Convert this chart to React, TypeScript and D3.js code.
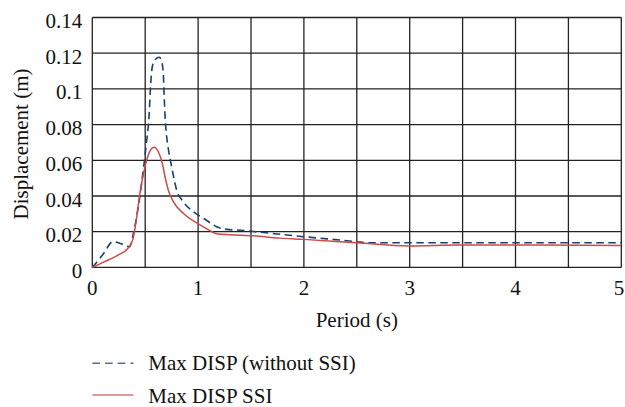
import React from "react";
import * as d3 from "d3";

// Period (s) and maximum displacement (m) without soil-structure interaction
const periodsNoSSI = [0, 0.1, 0.196, 0.26, 0.353, 0.388, 0.435, 0.482, 0.512, 0.536, 0.552, 0.567, 0.595, 0.633, 0.655, 0.671, 0.68, 0.69, 0.70, 0.718, 0.75, 0.797, 0.86, 0.955, 1.05, 1.1, 1.176, 1.27, 1.4, 1.585, 2.0, 2.5, 2.6, 3.0, 3.5, 4.0, 4.5, 5.0];
const dispNoSSI = [0, 0.0072, 0.0144, 0.0135, 0.0116, 0.019, 0.034, 0.0546, 0.07, 0.0844, 0.103, 0.1124, 0.1165, 0.1177, 0.1155, 0.1085, 0.095, 0.082, 0.075, 0.0667, 0.0564, 0.0434, 0.0368, 0.0312, 0.0275, 0.0256, 0.0228, 0.0213, 0.0208, 0.0197, 0.0172, 0.0144, 0.0138, 0.0138, 0.0138, 0.0138, 0.0138, 0.0138];

// Period (s) and maximum displacement (m) with soil-structure interaction
const periodsSSI = [0, 0.117, 0.243, 0.337, 0.385, 0.416, 0.45, 0.498, 0.529, 0.583, 0.624, 0.662, 0.687, 0.718, 0.766, 0.86, 1.018, 1.112, 1.176, 1.3, 1.52, 1.77, 2.0, 2.5, 3.0, 3.47, 4.0, 5.0];
const dispSSI = [0, 0.0032, 0.0069, 0.0107, 0.016, 0.0266, 0.0415, 0.0564, 0.063, 0.0673, 0.0648, 0.0583, 0.0508, 0.0434, 0.0368, 0.0303, 0.0238, 0.0206, 0.0188, 0.0183, 0.0177, 0.0164, 0.0157, 0.0138, 0.012, 0.0125, 0.0125, 0.0122];

const xTicks = [0, 1, 2, 3, 4, 5];
const xGrid = [0, 0.5, 1, 1.5, 2, 2.5, 3, 3.5, 4, 4.5, 5];
const yTicks = [0, 0.02, 0.04, 0.06, 0.08, 0.1, 0.12, 0.14];
const yTickLabels = ["0", "0.02", "0.04", "0.06", "0.08", "0.1", "0.12", "0.14"];

const seriesNames = ["Max DISP (without SSI)", "Max DISP SSI"];

const W = 625;
const H = 407;
const left = 92.3;
const right = 621.3;
const top = 17.5;
const bottom = 267.4;

const NAVY = "#1c3f6e";
const RED = "#cc4a48";
const GRID = "#222";

const textStyle: React.CSSProperties = { fontFamily: '"Times New Roman"', fontSize: 21 };

export default function App() {
  const x = d3.scaleLinear().domain([0, 5]).range([left, right]);
  const y = d3.scaleLinear().domain([0, 0.14]).range([bottom, top]);

  const line = d3
    .line<[number, number]>()
    .x((d) => x(d[0]))
    .y((d) => y(d[1]))
    .curve(d3.curveMonotoneX);

  const noSSI = periodsNoSSI.map((p, i) => [p, dispNoSSI[i]] as [number, number]);
  const ssi = periodsSSI.map((p, i) => [p, dispSSI[i]] as [number, number]);

  return (
    <svg width={W} height={H} style={{ position: "absolute", left: 0, top: 0, background: "#fff" }}>
      {/* grid */}
      {xGrid.map((v) => (
        <line key={"gx" + v} x1={x(v)} x2={x(v)} y1={top} y2={bottom} stroke={GRID} strokeWidth={1.3} />
      ))}
      {yTicks.map((v) => (
        <line key={"gy" + v} x1={left} x2={right} y1={y(v)} y2={y(v)} stroke={GRID} strokeWidth={1.3} />
      ))}

      {/* series */}
      <path d={line(noSSI) || ""} fill="none" stroke={NAVY} strokeWidth={1.6} strokeDasharray="7.5,4.5" />
      <path d={line(ssi) || ""} fill="none" stroke={RED} strokeWidth={1.5} />

      {/* y tick labels */}
      {yTicks.map((v, i) => (
        <text key={"ty" + v} x={left - 10} y={y(v) + 10.5} textAnchor="end" style={textStyle} fill="#111">
          {yTickLabels[i]}
        </text>
      ))}
      {/* x tick labels */}
      {xTicks.map((v) => (
        <text
          key={"tx" + v}
          x={v === 5 ? x(v) + 3 : x(v)}
          y={295}
          textAnchor={v === 5 ? "end" : "middle"}
          style={textStyle}
          fill="#111"
        >
          {v}
        </text>
      ))}

      {/* axis titles */}
      <text x={(left + right) / 2} y={327} textAnchor="middle" style={textStyle} fill="#111">
        Period (s)
      </text>
      <text
        transform={`translate(28,144) rotate(-90)`}
        textAnchor="middle"
        style={textStyle}
        fill="#111"
      >
        Displacement (m)
      </text>

      {/* legend */}
      <line x1={92.3} x2={133.5} y1={363.3} y2={363.3} stroke={NAVY} strokeWidth={1.6} strokeDasharray="7.7,5" opacity={0.75} />
      <text x={148.3} y={370} style={textStyle} fill="#111">
        {seriesNames[0]}
      </text>
      <line x1={92.3} x2={133.5} y1={395} y2={395} stroke={RED} strokeWidth={1.5} opacity={0.75} />
      <text x={148.3} y={403} style={textStyle} fill="#111">
        {seriesNames[1]}
      </text>
    </svg>
  );
}
